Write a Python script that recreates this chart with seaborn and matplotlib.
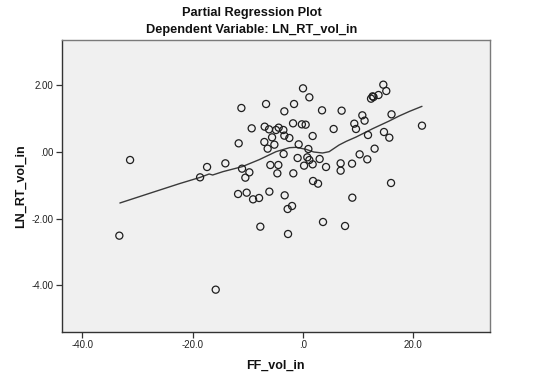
import numpy as np
import pandas as pd
import matplotlib
matplotlib.use("Agg")
import matplotlib.pyplot as plt
import seaborn as sns

# ---- data ----
ff_vol_in = [-31.35, -33.3, -15.8, -18.64, -17.37, -14.05, -11.14, -11.63, -11.02, -9.69,
             -10.42, -11.74, -10.18, -9.02, -7.93, -7.70, -6.66, -9.27, -6.91, -6.12,
             -4.85, -4.37, -3.52, -5.57, -3.34, -2.43, -6.97, -5.15, -6.37, -3.47,
             -5.88, -4.43, -4.61, -1.71, -6.06, -3.28, -1.94, -2.74, -2.67, -1.58,
             -3.34, -1.76, -0.93, -0.74, 0.05, 1.20, -0.16, 0.53, 1.80, 1.02,
             0.83, 1.20, 3.07, 1.80, 0.24, 4.23, 1.87, 2.78, 3.50, 7.06,
             5.61, 6.88, 6.88, 8.95, 9.00, 3.68, 7.68, 10.33, 11.72, 13.05,
             11.85, 9.36, 9.67, 10.82, 11.23, 14.75, 15.72, 16.12, 16.03, 21.65,
             14.63, 15.17, 13.76, 12.69, 12.40, 12.85]
ln_rt_vol_in = [-0.24, -2.51, -4.13, -0.76, -0.45, -0.34, 1.32, 0.26, -0.50, -0.61,
                -0.77, -1.26, -1.22, -1.42, -1.38, -2.24, 1.44, 0.71, 0.76, 0.68,
                0.66, 0.73, 0.66, 0.44, 0.49, 0.42, 0.30, 0.22, 0.10, -0.06,
                -0.39, -0.39, -0.64, -0.64, -1.19, -1.30, -1.62, -1.71, -2.46, 1.44,
                1.22, 0.86, -0.18, 0.23, 1.91, 1.64, 0.83, 0.82, 0.48, 0.09,
                -0.16, -0.24, -0.21, -0.37, -0.41, -0.45, -0.87, -0.95, 1.25, 1.24,
                0.69, -0.34, -0.56, -0.35, -1.37, -2.10, -2.22, -0.07, -0.22, 0.10,
                0.51, 0.85, 0.69, 1.10, 0.94, 0.60, 0.43, 1.13, -0.93, 0.79,
                2.02, 1.83, 1.71, 1.67, 1.60, 1.65]

# Loess fit line as drawn in the reference
fit_x = [-33.2, -28.0, -22.4, -18.6, -17.0, -16.35, -14.5, -11.0, -7.9, -4.85, -4.25,
         -2.4, -1.2, 0.6, 2.0, 3.6, 4.8, 6.6, 7.9, 9.7, 12.7, 15.7, 17.5, 19.4, 21.65]
fit_y = [-1.53, -1.25, -0.95, -0.76, -0.66, -0.69, -0.59, -0.44, -0.23, 0.01, 0.04,
         0.13, 0.14, 0.08, 0.0, -0.03, 0.01, 0.21, 0.32, 0.45, 0.70, 0.93, 1.08, 1.22, 1.37]

x_ticks = [-40, -20, 0, 20]
x_ticklabels = ["-40.0", "-20.0", ".0", "20.0"]
y_ticks = [2, 0, -2, -4]
y_ticklabels = ["2.00", ".00", "-2.00", "-4.00"]

title1 = "Partial Regression Plot"
title2 = "Dependent Variable: LN_RT_vol_in"
xlabel = "FF_vol_in"
ylabel = "LN_RT_vol_in"

# ---- plotting ----
sns.set_theme(style="white")
plt.rcParams['font.family'] = ['Liberation Sans', 'DejaVu Sans']

fig = plt.figure(figsize=(5.4, 3.77), dpi=100, facecolor="white")
ax = fig.add_axes([61.5/540, 1 - 332/377, (490 - 61.5)/540, (332 - 40)/377])
ax.set_facecolor("#f0f0f0")

pts = pd.DataFrame({"x": ff_vol_in, "y": ln_rt_vol_in})
fit = pd.DataFrame({"x": fit_x, "y": fit_y})

sns.lineplot(data=fit, x="x", y="y", ax=ax, color="#3a3a3a", linewidth=1.0,
             sort=False, estimator=None, zorder=2)
sns.scatterplot(data=pts, x="x", y="y", ax=ax, marker="o", s=26,
                facecolor="none", edgecolor="#1e1e1e", linewidth=0.9, zorder=3)

ax.set_xlim(-43.8, 34.0)
ax.set_ylim(-5.4, 3.36)
ax.set_xticks(x_ticks)
ax.set_xticklabels(x_ticklabels)
ax.set_yticks(y_ticks)
ax.set_yticklabels(y_ticklabels)
ax.tick_params(axis="both", which="both", direction="out", length=4, width=0.9,
               color="#333333", labelsize=7, labelcolor="#222222", pad=2,
               bottom=True, left=True, top=False, right=False)

for side in ["left", "bottom"]:
    ax.spines[side].set_color("#333333")
    ax.spines[side].set_linewidth(1.0)
for side in ["top", "right"]:
    ax.spines[side].set_color("#7a7a7a")
    ax.spines[side].set_linewidth(1.0)

ax.set_xlabel(xlabel, fontsize=9, fontweight="bold", color="#111111", labelpad=7)
ax.set_ylabel(ylabel, fontsize=9, fontweight="bold", color="#111111", labelpad=3)

fig.text(252/540, 1 - 13/377, title1, ha="center", va="center",
         fontsize=9.2, fontweight="bold", color="#111111")
fig.text(252/540, 1 - 30/377, title2, ha="center", va="center",
         fontsize=9.2, fontweight="bold", color="#111111")

fig.savefig("out.png", dpi=100, facecolor="white")
